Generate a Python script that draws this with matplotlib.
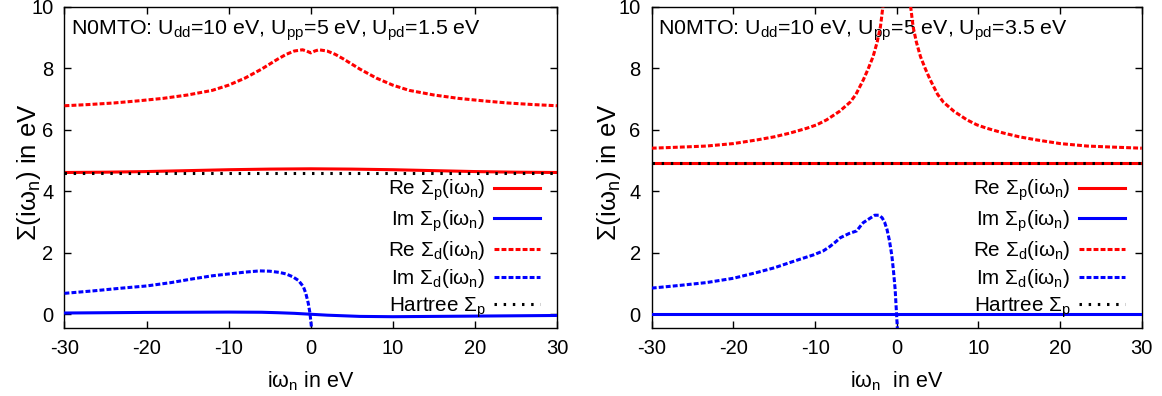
import matplotlib
matplotlib.use("Agg")
import matplotlib.pyplot as plt
import numpy as np

plt.rcParams['font.family'] = ['Liberation Sans', 'DejaVu Sans']
plt.rcParams['mathtext.default'] = 'regular'
plt.rcParams['axes.unicode_minus'] = False

# ---------------- data: left panel (U_pd = 1.5 eV) ----------------
L_re_d_x = [-30, -27, -24, -21, -18, -15, -12, -10, -8, -6, -4, -3, -2, -1, -0.5, 0,
            0.5, 1, 2, 3, 4, 6, 8, 10, 12, 15, 18, 21, 24, 27, 30]
L_re_d_y = [6.78, 6.82, 6.87, 6.94, 7.02, 7.13, 7.28, 7.45, 7.68, 7.97, 8.30, 8.45, 8.56, 8.60, 8.56, 8.50,
            8.56, 8.60, 8.56, 8.45, 8.30, 7.97, 7.68, 7.45, 7.28, 7.13, 7.02, 6.94, 6.87, 6.82, 6.78]

L_re_p_x = [-30, -25, -20, -15, -10, -5, 0, 5, 10, 15, 20, 25, 30]
L_re_p_y = [4.61, 4.62, 4.64, 4.67, 4.70, 4.72, 4.73, 4.72, 4.70, 4.67, 4.64, 4.62, 4.61]

L_im_p_x = [-30, -20, -10, -6, -4, -2, 0, 2, 4, 6, 10, 15, 20, 30]
L_im_p_y = [0.04, 0.06, 0.07, 0.065, 0.05, 0.03, 0.0, -0.03, -0.05, -0.07, -0.08, -0.07, -0.06, -0.04]

L_im_d_x = [-30, -26.5, -23, -20, -17, -14.4, -12, -10, -8, -6.2, -5, -3.8, -3, -2.2, -1.5, -0.9, -0.6, -0.3, -0.1, 0.1]
L_im_d_y = [0.68, 0.76, 0.85, 0.92, 1.03, 1.15, 1.25, 1.31, 1.37, 1.41, 1.40, 1.36, 1.31, 1.22, 1.10, 0.90, 0.68, 0.36, 0.05, -0.45]

L_hartree_x = [-30, 30]
L_hartree_y = [4.58, 4.58]

# ---------------- data: right panel (U_pd = 3.5 eV) ----------------
R_re_d_x = [-30, -26, -23.3, -20, -17.1, -15, -13.1, -11, -9.8, -8.6, -7, -5.7, -5, -4.1, -3.5, -2.9, -2.4, -2.0, -1.7, -1.5,
            0,
            1.5, 1.7, 2.0, 2.4, 2.9, 3.5, 4.1, 5, 5.7, 7, 8.6, 9.8, 11, 13.1, 15, 17.1, 20, 23.3, 26, 30]
R_re_d_y = [5.40, 5.44, 5.47, 5.55, 5.67, 5.77, 5.89, 6.05, 6.16, 6.32, 6.60, 6.90, 7.15, 7.62, 7.98, 8.38, 8.85, 9.35, 10.0, 10.6,
            np.nan,
            10.6, 10.0, 9.35, 8.85, 8.38, 7.98, 7.62, 7.15, 6.90, 6.60, 6.32, 6.16, 6.05, 5.89, 5.77, 5.67, 5.55, 5.47, 5.44, 5.40]

R_re_p_x = [-30, 30]
R_re_p_y = [4.93, 4.93]

R_im_p_x = [-30, 30]
R_im_p_y = [0.0, 0.0]

R_im_d_x = [-30, -26.5, -23.3, -20, -17.1, -15, -13.1, -11.5, -10.2, -9, -8.2, -7.5, -6.9, -5.8, -4.9, -4.5, -4.1,
            -3.4, -2.7, -2.2, -1.8, -1.5, -1.2, -0.9, -0.6, -0.4, -0.2, 0.07]
R_im_d_y = [0.85, 0.94, 1.03, 1.17, 1.36, 1.51, 1.68, 1.82, 1.93, 2.06, 2.2, 2.35, 2.49, 2.63, 2.71, 2.85, 2.98,
            3.10, 3.22, 3.22, 3.14, 3.0, 2.76, 2.4, 1.9, 1.4, 0.81, -0.45]

R_hartree_x = [-30, 30]
R_hartree_y = [4.93, 4.93]

titles = ['N0MTO: U$_{dd}$=10 eV, U$_{pp}$=5 eV, U$_{pd}$=1.5 eV',
          'N0MTO: U$_{dd}$=10 eV, U$_{pp}$=5 eV, U$_{pd}$=3.5 eV']
xlabels = ['iω$_{n}$ in eV', 'iω$_{n}$  in eV']
ylabel = 'Σ(iω$_{n}$) in eV'
legend_labels = ['Re Σ$_{p}$(iω$_{n}$)', 'Im Σ$_{p}$(iω$_{n}$)', 'Re Σ$_{d}$(iω$_{n}$)',
                 'Im Σ$_{d}$(iω$_{n}$)', 'Hartree Σ$_{p}$']
xticks = [-30, -20, -10, 0, 10, 20, 30]
yticks = [0, 2, 4, 6, 8, 10]

fig = plt.figure(figsize=(11.62, 3.96), dpi=100)
ax_l = fig.add_axes([0.0555, 0.1715, 0.4238, 0.8115])
ax_r = fig.add_axes([0.5609, 0.1715, 0.4217, 0.8115])

dash_d = (0, (1.6, 0.7))
dot_h = (0, (0.8, 2.2))

panels = [
    (ax_l, (L_re_p_x, L_re_p_y), (L_im_p_x, L_im_p_y), (L_re_d_x, L_re_d_y), (L_im_d_x, L_im_d_y), (L_hartree_x, L_hartree_y)),
    (ax_r, (R_re_p_x, R_re_p_y), (R_im_p_x, R_im_p_y), (R_re_d_x, R_re_d_y), (R_im_d_x, R_im_d_y), (R_hartree_x, R_hartree_y)),
]
ylabel_x = [-0.043, -0.059]

for i, (ax, rep, imp, red, imd, har) in enumerate(panels):
    ax.plot(*rep, color='#ff0000', lw=2.2, label=legend_labels[0], zorder=2)
    ax.plot(*imp, color='#0000ff', lw=2.2, label=legend_labels[1], zorder=3)
    ax.plot(*red, color='#ff0000', lw=2.2, ls=dash_d, label=legend_labels[2], zorder=4)
    ax.plot(*imd, color='#0000ff', lw=2.2, ls=dash_d, label=legend_labels[3], zorder=5)
    ax.plot(*har, color='black', lw=2.2, ls=dot_h, label=legend_labels[4], zorder=6)
    ax.set_xlim(-30, 30)
    ax.set_ylim(-0.45, 10)
    ax.set_xticks(xticks)
    ax.set_yticks(yticks)
    ax.tick_params(direction='in', length=5, width=1, top=True, right=True, labelsize=14.5, pad=8)
    for s in ax.spines.values():
        s.set_linewidth(1.0)
    ax.set_xlabel(xlabels[i], fontsize=15.5, labelpad=8)
    ax.set_ylabel(ylabel, fontsize=18.5)
    ax.yaxis.set_label_coords(ylabel_x[i], 0.484)
    ax.text(0.013, 0.912, titles[i], transform=ax.transAxes, fontsize=15.4, va='baseline', ha='left')
    ax.legend(loc='lower right', frameon=False, markerfirst=False, fontsize=14.9,
              handlelength=2.22, labelspacing=0.25, handletextpad=0.4, borderaxespad=0.0,
              bbox_to_anchor=(0.982, 0.0))

fig.savefig('out.png', dpi=100)
